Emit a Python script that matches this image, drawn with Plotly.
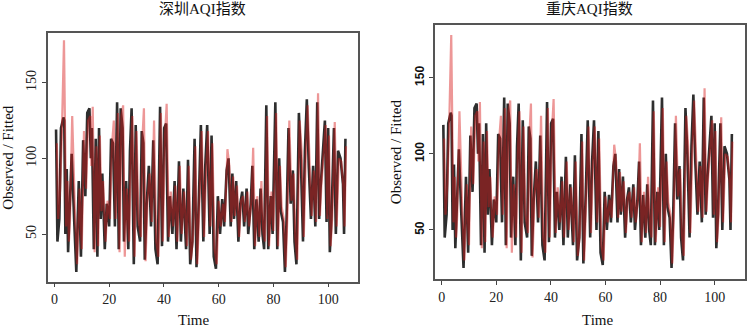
import plotly.graph_objects as go

# ---- data ----
time = [0.6, 1.1, 1.8, 2.4, 3.3, 3.6, 4.0, 4.5, 5.0, 5.4, 6.3, 7.2, 8.0, 8.9, 9.7,
        10.5, 11.3, 12.0, 12.8, 13.3, 13.7, 14.4, 15.1, 15.7, 16.3, 16.9, 17.5, 18.4, 19.1, 20.0,
        20.7, 21.4, 22.1, 22.9, 23.5, 24.2, 24.9, 25.4, 26.2, 27.0, 27.6, 28.2, 29.0, 29.7, 30.4,
        31.3, 31.9, 32.5, 33.0, 33.7, 34.5, 35.3, 36.1, 36.9, 37.7, 38.6, 39.3, 40.1, 40.8, 41.5,
        42.2, 43.1, 43.9, 44.6, 45.5, 46.2, 47.1, 48.1, 48.8, 49.6, 50.4, 51.2, 51.9, 52.8, 53.5,
        54.4, 55.1, 55.8, 56.7, 57.4, 58.2, 59.0, 59.7, 60.5, 61.3, 62.0, 62.9, 63.6, 64.4, 65.0,
        65.6, 66.4, 67.2, 67.9, 68.6, 69.3, 70.2, 70.8, 71.7, 72.3, 73.0, 73.8, 74.6, 75.3, 76.0,
        76.6, 77.4, 78.1, 79.0, 79.7, 80.7, 81.4, 82.1, 82.7, 83.5, 84.2, 84.8, 85.5, 86.3, 87.1,
        87.7, 88.4, 89.3, 90.0, 90.8, 91.5, 92.2, 92.9, 93.7, 94.5, 95.3, 96.0, 96.7, 97.2, 97.9,
        98.8, 99.4, 100.0, 100.6, 101.2, 102.1, 102.8, 103.6, 104.5, 105.4, 105.8, 106.3]

observed = [119, 45, 60, 120, 127, 125, 50, 93, 38, 55, 103, 60, 25, 85, 35,
            112, 75, 130, 133, 100, 120, 40, 113, 35, 120, 60, 90, 40, 70, 55,
            113, 110, 55, 137, 40, 133, 120, 45, 85, 40, 105, 133, 30, 122, 55,
            45, 118, 110, 33, 70, 95, 55, 112, 40, 30, 134, 42, 120, 123, 45,
            75, 50, 85, 40, 98, 45, 80, 40, 99, 30, 45, 113, 28, 75, 122,
            45, 95, 122, 50, 115, 35, 27, 75, 50, 73, 55, 92, 100, 55, 90,
            60, 85, 45, 70, 78, 55, 80, 50, 70, 95, 40, 73, 45, 80, 50,
            40, 135, 40, 75, 50, 137, 40, 100, 65, 58, 25, 60, 120, 70, 92,
            45, 30, 130, 100, 45, 105, 139, 95, 60, 95, 55, 137, 60, 80, 100,
            125, 58, 120, 38, 60, 120, 50, 105, 100, 83, 50, 113]

fitted_time = [0.9, 1.4, 2.1, 2.7, 3.5, 3.8, 4.3, 4.8, 5.3, 5.7, 6.5, 7.5, 8.3, 9.2, 10.0,
               10.8, 11.6, 12.3, 13.1, 13.5, 14.0, 14.7, 15.4, 16.0, 16.6, 17.2, 17.8, 18.7, 19.4, 20.3,
               21.0, 21.7, 22.4, 23.2, 23.8, 24.5, 25.1, 25.7, 26.5, 27.3, 27.9, 28.5, 29.3, 30.0, 30.7,
               31.6, 32.2, 32.7, 33.3, 34.0, 34.8, 35.6, 36.4, 37.2, 38.0, 38.9, 39.6, 40.4, 41.0, 41.8,
               42.5, 43.4, 44.2, 44.9, 45.8, 46.5, 47.4, 48.4, 49.1, 49.9, 50.7, 51.5, 52.2, 53.1, 53.8,
               54.7, 55.4, 56.1, 57.0, 57.7, 58.5, 59.3, 60.0, 60.8, 61.6, 62.3, 63.2, 63.9, 64.7, 65.3,
               65.9, 66.7, 67.5, 68.2, 68.9, 69.6, 70.5, 71.1, 72.0, 72.6, 73.3, 74.1, 74.9, 75.6, 76.3,
               76.9, 77.7, 78.4, 79.3, 80.0, 81.0, 81.7, 82.4, 83.0, 83.8, 84.5, 85.1, 85.8, 86.6, 87.4,
               88.0, 88.7, 89.6, 90.3, 91.1, 91.8, 92.5, 93.2, 94.0, 94.8, 95.6, 96.3, 97.0, 97.5, 98.2,
               99.1, 99.7, 100.3, 100.9, 101.5, 102.4, 103.1, 103.9, 104.8, 105.6, 106.0, 106.5]

fitted = [110, 60, 80, 115, 178, 143, 55, 85, 45, 60, 128, 65, 30, 80, 40,
          118, 80, 125, 128, 95, 134, 38, 108, 42, 115, 65, 85, 45, 72, 60,
          108, 125, 60, 130, 38, 128, 135, 35, 80, 45, 100, 128, 35, 118, 60,
          48, 115, 133, 32, 72, 90, 58, 125, 45, 35, 130, 45, 115, 136, 48,
          78, 55, 82, 45, 95, 50, 78, 42, 95, 33, 50, 108, 30, 78, 118,
          48, 92, 118, 55, 110, 40, 30, 72, 55, 70, 58, 106, 95, 58, 88,
          62, 82, 48, 72, 75, 58, 78, 55, 72, 107, 42, 75, 48, 85, 52,
          45, 128, 42, 78, 52, 130, 42, 95, 68, 60, 28, 62, 125, 72, 90,
          48, 33, 125, 105, 48, 100, 135, 98, 62, 92, 58, 143, 62, 82, 98,
          122, 60, 115, 42, 62, 124, 55, 100, 98, 80, 55, 108]

titles = ["深圳AQI指数", "重庆AQI指数"]
x_ticks = [0, 20, 40, 60, 80, 100]
y_ticks = [50, 100, 150]

W, H = 747, 329
SERIF = "Liberation Serif, Times New Roman, Noto Sans CJK SC, serif"

fig = go.Figure()

panels = [
    dict(xa="x", ya="y", px=(47.7, 358.3), py=(33.0, 281.7), yr=[18.5, 182.8],
         ytickfont=dict(family=SERIF, size=14, color="#222"),
         title_xy=(202.7, 9), ytitle_x=8.5, time_xy=(193, 320)),
    dict(xa="x2", ya="y2", px=(435.0, 744.7), py=(25.0, 279.3), yr=[17.6, 184.6],
         ytickfont=dict(family="Liberation Sans, Arial, sans-serif", size=12, color="#111",
                        weight="bold"),
         title_xy=(589, 9), ytitle_x=396, time_xy=(597, 320)),
]

for i, p in enumerate(panels):
    fig.add_trace(go.Scatter(x=time, y=observed, mode="lines", xaxis=p["xa"], yaxis=p["ya"],
                             line=dict(color="rgba(0,0,0,0.82)", width=2.6), showlegend=False))
    fig.add_trace(go.Scatter(x=fitted_time, y=fitted, mode="lines", xaxis=p["xa"], yaxis=p["ya"],
                             line=dict(color="rgba(215,25,25,0.45)", width=2.2), showlegend=False))

layout = dict(width=W, height=H, margin=dict(l=0, r=0, t=0, b=0),
              paper_bgcolor="white", plot_bgcolor="white", showlegend=False)

for i, p in enumerate(panels):
    suffix = "" if i == 0 else str(i + 1)
    xdom = [p["px"][0] / W, p["px"][1] / W]
    ydom = [1 - p["py"][1] / H, 1 - p["py"][0] / H]
    layout["xaxis" + suffix] = dict(
        domain=xdom, range=[-2.45, 111.0], tickvals=x_ticks, ticks="outside", ticklen=4,
        tickcolor="#444", showline=True, linecolor="#555", linewidth=1.5, mirror=True,
        showgrid=False, zeroline=False, anchor=p["ya"],
        tickfont=dict(family=SERIF, size=14, color="#222"))
    layout["yaxis" + suffix] = dict(
        domain=ydom, range=p["yr"], tickvals=y_ticks, ticks="outside", ticklen=4,
        tickcolor="#444", showline=True, linecolor="#555", linewidth=1.5, mirror=True,
        showgrid=False, zeroline=False, anchor=p["xa"], tickangle=-90, tickfont=p["ytickfont"])

fig.update_layout(**layout)

annots = []
for i, p in enumerate(panels):
    annots.append(dict(text=titles[i], x=p["title_xy"][0] / W, y=1 - p["title_xy"][1] / H,
                       xref="paper", yref="paper", showarrow=False, xanchor="center", yanchor="middle",
                       font=dict(family=SERIF, size=15, color="#111")))
    annots.append(dict(text="Observed / Fitted", x=p["ytitle_x"] / W,
                       y=1 - ((p["py"][0] + p["py"][1]) / 2) / H,
                       xref="paper", yref="paper", showarrow=False, textangle=-90,
                       xanchor="center", yanchor="middle",
                       font=dict(family=SERIF, size=15, color="#111")))
    annots.append(dict(text="Time", x=p["time_xy"][0] / W, y=1 - p["time_xy"][1] / H,
                       xref="paper", yref="paper", showarrow=False, xanchor="center", yanchor="middle",
                       font=dict(family=SERIF, size=15, color="#111")))
fig.update_layout(annotations=annots)

fig.write_html("out.html", config={"displayModeBar": False},
               post_script="document.body.style.margin='0';document.body.style.overflow='hidden';")
